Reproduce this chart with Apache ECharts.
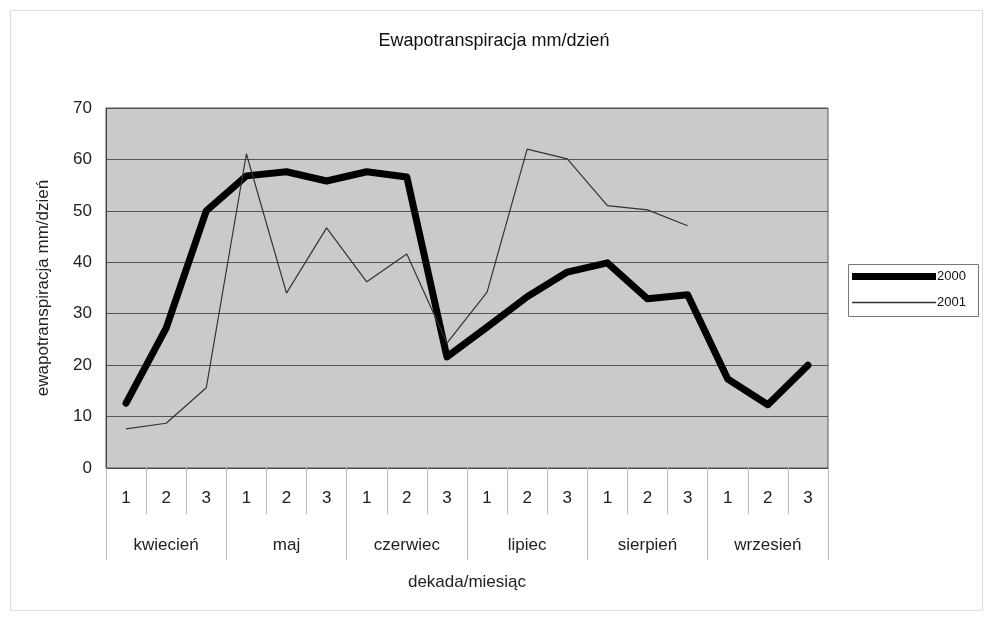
<!DOCTYPE html>
<html>
<head>
<meta charset="utf-8">
<script src="https://cdn.jsdelivr.net/npm/echarts@6/dist/echarts.min.js"></script>
<style>
    html,body{margin:0;padding:0;background:#fff;}
    #chart{width:988px;height:618px;}
</style>
</head>
<body>
<div id="chart"></div>
<script>
    // dane: dekady kwiecień - wrzesień
    var decades = ['1','2','3','1','2','3','1','2','3','1','2','3','1','2','3','1','2','3'];
    var months = ['kwiecień','maj','czerwiec','lipiec','sierpień','wrzesień'];
    var yTicks = [0,10,20,30,40,50,60,70];
    var s2000 = [12.6,27.2,50,56.8,57.6,55.8,57.6,56.6,21.6,27.4,33.3,38.1,39.9,32.9,33.7,17.3,12.3,20.0];
    var s2001 = [7.6,8.7,15.6,61.1,34,46.7,36.2,41.6,24.3,34.2,62,60.1,51,50.2,47.1,null,null,null];

    var font = 'Liberation Sans, Arial, sans-serif';
    var myChart = echarts.init(document.getElementById('chart'));
    var legendBase = {
        orient:'vertical',
        left:852,
        itemWidth:84,
        itemGap:6,
        icon:'rect',
        padding:0,
        textStyle:{color:'#111',fontSize:13,fontFamily:font,padding:[0,0,0,-4]}
    };
    var option = {
        backgroundColor:'#fff',
        animation:false,
        title:{
            text:'Ewapotranspiracja mm/dzień',
            left:'center',
            top:27,
            textStyle:{color:'#111',fontSize:18,fontWeight:'normal',fontFamily:font}
        },
        legend:[
            Object.assign({}, legendBase, {top:270, itemHeight:7, data:['2000']}),
            Object.assign({}, legendBase, {top:296, itemHeight:1.5, data:['2001']})
        ],
        grid:{left:106,right:160,top:108,bottom:150,show:true,backgroundColor:'#cacaca',borderColor:'#555',borderWidth:1},
        xAxis:[
            {
                type:'category',
                data:decades,
                position:'bottom',
                axisLine:{lineStyle:{color:'#444'}},
                axisTick:{show:true,length:46,lineStyle:{color:'#bbb'}},
                axisLabel:{color:'#222',fontSize:17,margin:22,fontFamily:font},
                name:'dekada/miesiąc',
                nameLocation:'middle',
                nameGap:106,
                nameTextStyle:{color:'#222',fontSize:17,fontFamily:font}
            },
            {
                type:'category',
                data:months,
                position:'bottom',
                axisLine:{show:false},
                axisTick:{show:true,length:92,lineStyle:{color:'#bbb'}},
                axisLabel:{color:'#222',fontSize:17,margin:69,fontFamily:font}
            }
        ],
        yAxis:{
            type:'value',
            min:0,
            max:70,
            interval:10,
            name:'ewapotranspiracja mm/dzień',
            nameLocation:'middle',
            nameGap:54,
            nameTextStyle:{color:'#222',fontSize:17,fontFamily:font},
            axisLine:{show:true,lineStyle:{color:'#444'}},
            axisTick:{show:false},
            axisLabel:{color:'#222',fontSize:17,margin:14,fontFamily:font},
            splitLine:{show:true,lineStyle:{color:'#555',width:1}}
        },
        series:[
            {
                name:'2000',
                type:'line',
                data:s2000,
                symbol:'none',
                color:'#000',
                lineStyle:{color:'#000',width:7,join:'round',cap:'round'}
            },
            {
                name:'2001',
                type:'line',
                data:s2001,
                symbol:'none',
                color:'#333',
                lineStyle:{color:'#333',width:1.2}
            }
        ],
        graphic:[
            {type:'rect',left:8,top:8,shape:{width:972,height:600},style:{fill:null,stroke:'#ddd',lineWidth:1},silent:true},
            {type:'rect',left:846,top:262,shape:{width:130,height:52},style:{fill:null,stroke:'#777',lineWidth:1},silent:true}
        ]
    };
    myChart.setOption(option);
</script>
</body>
</html>
